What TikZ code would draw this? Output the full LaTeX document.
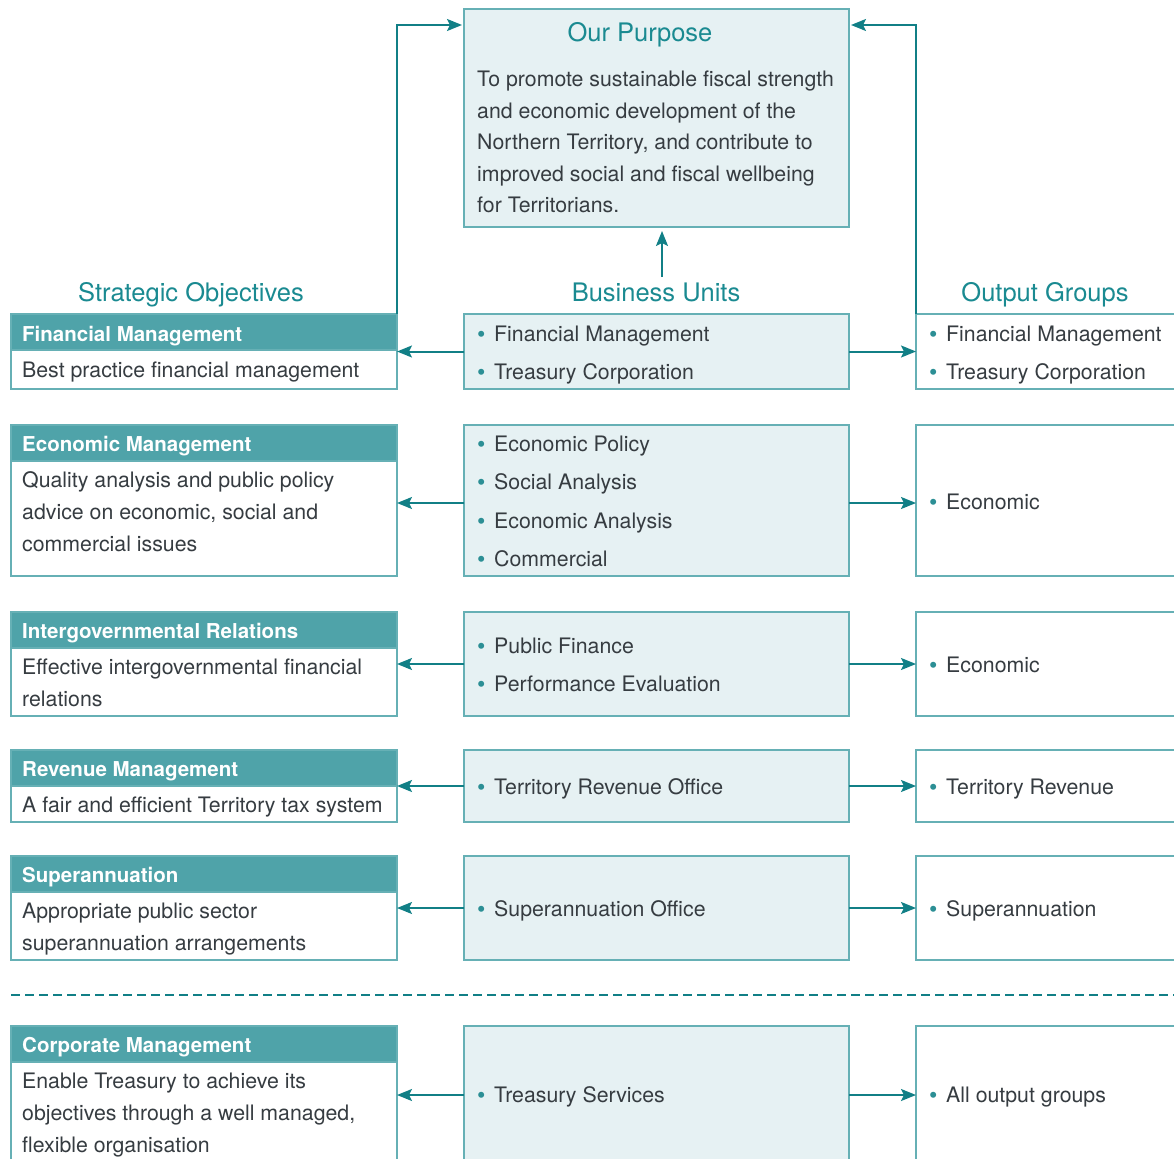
\documentclass[tikz,border=0pt]{standalone}
\usepackage{fontspec}
\setmainfont{TeX Gyre Heros}
\usetikzlibrary{arrows.meta}
\definecolor{textc}{HTML}{363C41}
\definecolor{titlec}{HTML}{1A8A91}
\definecolor{hdrfill}{HTML}{4FA3A9}
\definecolor{boxline}{HTML}{66B0B5}
\definecolor{arrowc}{HTML}{117F86}
\definecolor{midfill}{HTML}{E6F1F3}
\definecolor{bulc}{HTML}{2C8F95}
\newcommand\bul{\makebox[17pt][l]{\textcolor{bulc}{\raisebox{-1.2pt}{\scalebox{1.12}{\textbullet}}}}}
\begin{document}
\begin{tikzpicture}[x=1pt,y=-1pt,
  frame/.style={rectangle, draw=boxline, line width=1.8pt, inner sep=0pt, outer sep=0pt, anchor=north west},
  lbox/.style={frame, fill=white, minimum width=386pt},
  hdr/.style={frame, fill=hdrfill, minimum width=386pt, minimum height=36pt},
  mbox/.style={frame, fill=midfill, minimum width=385pt},
  rbox/.style={frame, fill=white, minimum width=300pt},
  arr/.style={draw=arrowc, line width=2pt, -{Stealth[length=15pt,width=12pt,inset=3pt]}},
  body/.style={anchor=base west, inner sep=0pt, text=textc, font=\fontsize{21.3}{25}\selectfont},
  hdrtxt/.style={anchor=base west, inner sep=0pt, text=white, font=\fontsize{20.5}{24}\selectfont\bfseries},
  title/.style={anchor=base, inner sep=0pt, text=titlec, font=\fontsize{25.5}{30}\selectfont},
  dashline/.style={draw=arrowc, line width=2.6pt, dash pattern=on 9pt off 5pt}
]
\useasboundingbox (0,0) rectangle (1174,1158);

% purpose box
\node[frame, fill=midfill, minimum width=385pt, minimum height=218pt] (pur) at (464,9) {};
\node[title] (purt) at (640,42) {Our Purpose};
\foreach \t [count=\i] in {To promote sustainable fiscal strength,
  and economic development of\ the,
  {Northern Territory, and contribute to},
  improved social and fiscal wellbeing,
  for Territorians.}
  \node[body] (pl\i) at (477,{87+31.5*(\i-1)}) {\t};

% column headings
\node[title] (so) at (191,301) {Strategic Objectives};
\node[title] (bu) at (656,301) {Business Units};
\node[title] (og) at (1045,301) {Output Groups};

% rows of boxes and arrows
\foreach \n/\top/\h/\dy in {1/314/75/0, 2/425/151/-2.5, 3/612/104/0, 4/750/72/0, 5/856/104/0, 6/1026/138/0} {
  \node[lbox, minimum height=\h pt] (l\n) at (11,\top) {};
  \node[hdr] (h\n) at (11,\top) {};
  \node[mbox, minimum height=\h pt] (m\n) at (464,\top) {};
  \node[rbox, minimum height=\h pt] (r\n) at (916,\top) {};
  \draw[arr] ([yshift=\dy pt]m\n.west) -- ([yshift=\dy pt]l\n.east);
  \draw[arr] ([yshift=\dy pt]m\n.east) -- ([yshift=\dy pt]r\n.west);
}

% loops to purpose
\coordinate (ty) at (0,25);
\draw[arr, shorten >=2pt] (l1.north east) |- (pur.west |- ty);
\draw[arr, shorten >=2pt] (r1.north west) |- (pur.east |- ty);
\coordinate (bt) at ([xshift=6pt,yshift=5pt]bu.north);
\draw[arr, shorten >=4pt] (bt) -- (bt |- pur.south);

% dashed separator
\coordinate (dl) at (11,995);
\coordinate (dr) at (1174,995);
\draw[dashline] (dl) -- (dr);

% header texts
\node[hdrtxt] (ht1) at (22,341) {Financial Management};
\node[hdrtxt] (ht2) at (22,451) {Economic Management};
\node[hdrtxt] (ht3) at (22,638) {Intergovernmental Relations};
\node[hdrtxt] (ht4) at (22,776) {Revenue Management};
\node[hdrtxt] (ht5) at (22,882) {Superannuation};
\node[hdrtxt] (ht6) at (22,1052) {Corporate Management};

% left body texts
\node[body] (lb1) at (22,377) {Best practice financial management};
\node[body] (lb2a) at (22,487) {Quality analysis and public policy};
\node[body] (lb2b) at (22,519) {advice on economic, social and};
\node[body] (lb2c) at (22,551) {commercial issues};
\node[body] (lb3a) at (22,674) {Effective intergovernmental financial};
\node[body] (lb3b) at (22,706) {relations};
\node[body] (lb4) at (22,812) {A fair and efficient Territory tax system};
\node[body] (lb5a) at (22,918) {Appropriate public sector};
\node[body] (lb5b) at (22,950) {superannuation arrangements};
\node[body] (lb6a) at (22,1088) {Enable Treasury to achieve its};
\node[body] (lb6b) at (22,1120) {objectives through a well managed,};
\node[body] (lb6c) at (22,1152) {flexible organisation};

% middle items
\node[body] (mi1a) at (477,341) {\bul Financial Management};
\node[body] (mi1b) at (477,379) {\bul Treasury Corporation};
\node[body] (mi2a) at (477,451) {\bul Economic Policy};
\node[body] (mi2b) at (477,489) {\bul Social Analysis};
\node[body] (mi2c) at (477,528) {\bul Economic Analysis};
\node[body] (mi2d) at (477,566) {\bul Commercial};
\node[body] (mi3a) at (477,653) {\bul Public Finance};
\node[body] (mi3b) at (477,691) {\bul Performance Evaluation};
\node[body] (mi4) at (477,794) {\bul Territory Revenue Office};
\node[body] (mi5) at (477,916) {\bul Superannuation Office};
\node[body] (mi6) at (477,1102) {\bul Treasury Services};

% right items
\node[body] (ri1a) at (929,341) {\bul Financial Management};
\node[body] (ri1b) at (929,379) {\bul Treasury Corporation};
\node[body] (ri2) at (929,509) {\bul Economic};
\node[body] (ri3) at (929,672) {\bul Economic};
\node[body] (ri4) at (929,794) {\bul Territory Revenue};
\node[body] (ri5) at (929,916) {\bul Superannuation};
\node[body] (ri6) at (929,1102) {\bul All output groups};
\end{tikzpicture}
\end{document}
